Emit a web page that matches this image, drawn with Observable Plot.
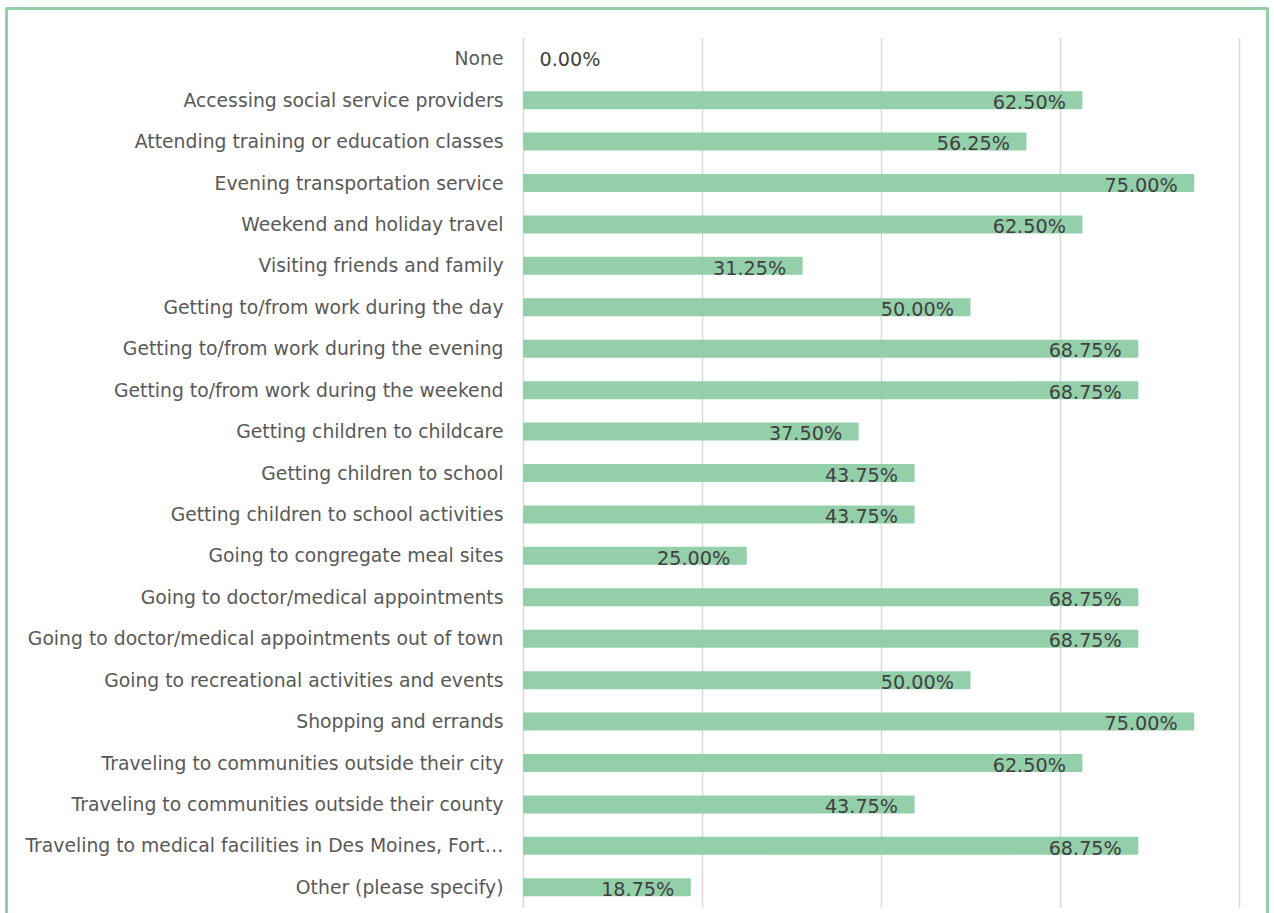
<!DOCTYPE html>
<html>
<head>
<meta charset="utf-8">
<script src="https://cdn.jsdelivr.net/npm/d3@7"></script>
<script src="https://cdn.jsdelivr.net/npm/@observablehq/plot@0.6"></script>
<style>
  html, body { margin: 0; padding: 0; background: #fff; overflow: hidden; }
  #wrap { position: relative; width: 1274px; height: 913px; }
  #frame { position: absolute; left: 5px; top: 7px; width: 1258px; height: 920px; border: 3px solid #93cfab; border-radius: 2px; pointer-events: none; }
  #chart { position: absolute; left: 0; top: 0; }
</style>
</head>
<body>
<div id="wrap">
  <div id="chart"></div>
  <div id="frame"></div>
</div>
<script>
const categories = [
  "None",
  "Accessing social service providers",
  "Attending training or education classes",
  "Evening transportation service",
  "Weekend and holiday travel",
  "Visiting friends and family",
  "Getting to/from work during the day",
  "Getting to/from work during the evening",
  "Getting to/from work during the weekend",
  "Getting children to childcare",
  "Getting children to school",
  "Getting children to school activities",
  "Going to congregate meal sites",
  "Going to doctor/medical appointments",
  "Going to doctor/medical appointments out of town",
  "Going to recreational activities and events",
  "Shopping and errands",
  "Traveling to communities outside their city",
  "Traveling to communities outside their county",
  "Traveling to medical facilities in Des Moines, Fort…",
  "Other (please specify)"
];
const values = [0, 62.5, 56.25, 75, 62.5, 31.25, 50, 68.75, 68.75, 37.5, 43.75, 43.75, 25, 68.75, 68.75, 50, 75, 62.5, 43.75, 68.75, 18.75];
const gridTicks = [0, 20, 40, 60, 80];

const data = categories.map((c, i) => ({category: c, value: values[i]}));
const fmt = v => v.toFixed(2) + "%";
const font = "'DejaVu Sans', sans-serif";

const chart = Plot.plot({
  width: 1274,
  height: 913,
  marginLeft: 523,
  marginRight: 35,
  marginTop: 38,
  marginBottom: 5,
  style: {fontFamily: font, background: "transparent"},
  x: {domain: [0, 80], axis: null},
  y: {domain: categories, padding: 0, round: false, label: null},
  marks: [
    Plot.ruleX(gridTicks, {stroke: "#d9d9d9", strokeWidth: 1.5}),
    Plot.barX(data, {x: "value", y: "category", fill: "#93d0aa", insetTop: 11.7, insetBottom: 11.7, rx: 1}),
    Plot.axisY({tickSize: 0, tickPadding: 20, fontSize: 18.8, color: "#595959", label: null, fontFamily: font}),
    Plot.text(data.filter(d => d.value > 0), {x: "value", y: "category", text: d => fmt(d.value), textAnchor: "end", dx: -17, dy: 2, fontSize: 19.2, fill: "#404040", fontFamily: font}),
    Plot.text(data.filter(d => d.value === 0), {x: "value", y: "category", text: d => fmt(d.value), textAnchor: "start", dx: 16, dy: 1, fontSize: 19.2, fill: "#404040", fontFamily: font})
  ]
});
document.getElementById("chart").appendChild(chart);
</script>
</body>
</html>
